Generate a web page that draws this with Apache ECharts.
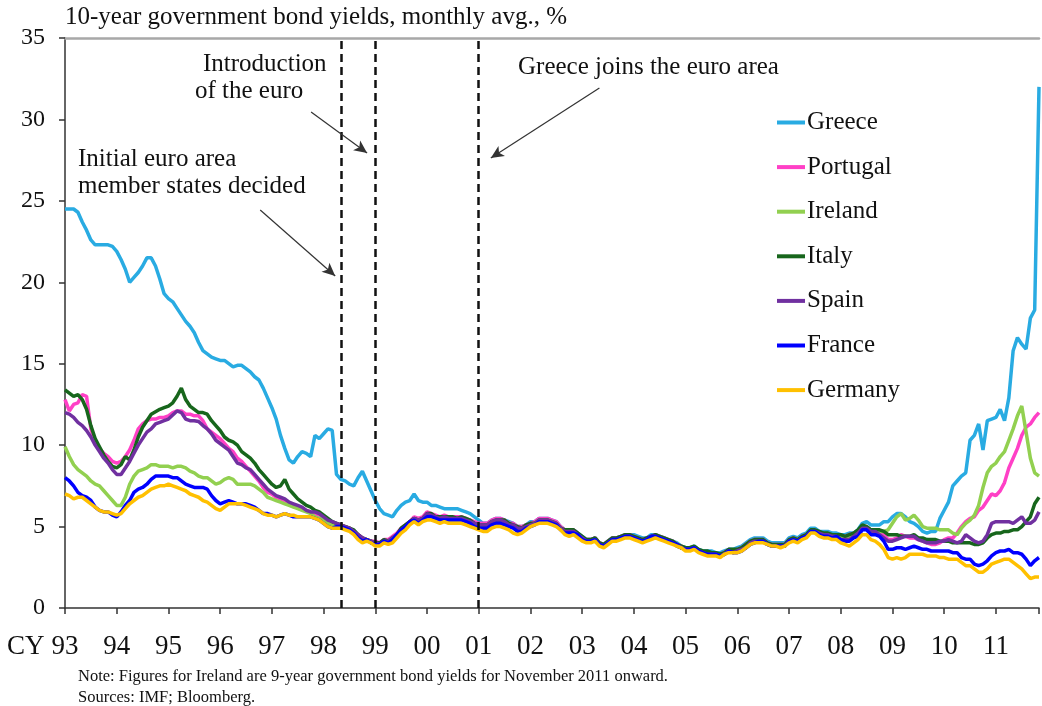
<!DOCTYPE html>
<html>
<head>
<meta charset="utf-8">
<script src="https://cdn.jsdelivr.net/npm/echarts@6/dist/echarts.min.js"></script>
<style>
  html, body { margin: 0; padding: 0; background: #fff; }
  #chart { width: 1042px; height: 706px; }
</style>
</head>
<body>
<div id="chart"></div>
<script>
// monthly averages, Jan 1993 .. Nov 2011 (one row per year)
const yearLabels = ['93','94','95','96','97','98','99','00','01','02','03','04','05','06','07','08','09','10','11']

const greece = [
  24.5, 24.5, 24.5, 24.3, 23.7, 23.2, 22.6, 22.3, 22.3, 22.3, 22.3, 22.2,
  21.9, 21.4, 20.8, 20.0, 20.3, 20.6, 21.0, 21.5, 21.5, 21.0, 20.2, 19.3,
  19.0, 18.8, 18.4, 18.0, 17.6, 17.3, 16.9, 16.3, 15.8, 15.6, 15.4, 15.3,
  15.2, 15.2, 15.0, 14.8, 14.9, 14.9, 14.7, 14.5, 14.2, 14.0, 13.5, 12.9,
  12.3, 11.6, 10.6, 9.8, 9.1, 8.9, 9.3, 9.6, 9.5, 9.3, 10.6, 10.4,
  10.7, 11.0, 10.9, 8.2, 7.9, 7.8, 7.6, 7.5, 8.0, 8.4, 7.8, 7.2,
  6.6, 6.1, 5.8, 5.7, 5.6, 6.0, 6.3, 6.5, 6.6, 7.0, 6.6, 6.5,
  6.5, 6.3, 6.3, 6.2, 6.1, 6.1, 6.1, 6.1, 6.0, 5.9, 5.8, 5.6,
  5.4, 5.2, 5.2, 5.4, 5.5, 5.5, 5.4, 5.3, 5.2, 5.0, 5.0, 5.1,
  5.3, 5.3, 5.5, 5.5, 5.5, 5.4, 5.3, 5.0, 4.8, 4.8, 4.8, 4.6,
  4.4, 4.2, 4.2, 4.3, 4.0, 3.9, 4.1, 4.3, 4.3, 4.4, 4.5, 4.5,
  4.5, 4.4, 4.3, 4.3, 4.5, 4.5, 4.4, 4.3, 4.2, 4.1, 4.0, 3.8,
  3.7, 3.7, 3.8, 3.6, 3.5, 3.5, 3.5, 3.4, 3.4, 3.5, 3.6, 3.6,
  3.7, 3.8, 4.0, 4.2, 4.3, 4.3, 4.3, 4.1, 4.0, 4.0, 4.0, 4.0,
  4.3, 4.4, 4.3, 4.5, 4.6, 4.9, 4.9, 4.7, 4.7, 4.7, 4.6, 4.6,
  4.5, 4.5, 4.6, 4.6, 4.8, 5.2, 5.3, 5.1, 5.1, 5.1, 5.3, 5.3,
  5.6, 5.8, 5.8, 5.6, 5.3, 5.2, 5.0, 4.7, 4.6, 4.7, 4.7, 5.5,
  6.0, 6.5, 7.5, 7.8, 8.1, 8.3, 10.3, 10.6, 11.3, 9.7, 11.5, 11.6,
  11.7, 12.2, 11.5, 12.9, 15.8, 16.6, 16.2, 15.9, 17.8, 18.3, 32.0
]

const portugal = [
  12.8, 12.1, 12.5, 12.6, 13.1, 13.0, 11.0, 10.2, 9.8, 9.5, 9.3, 9.0,
  8.9, 9.0, 9.3, 9.7, 10.3, 11.0, 11.3, 11.5, 11.6, 11.6, 11.7, 11.7,
  11.8, 12.0, 12.1, 12.1, 11.9, 11.9, 11.8, 11.8, 11.5, 11.0, 10.8, 10.6,
  10.4, 10.1, 9.8, 9.6, 9.2, 9.0, 8.7, 8.4, 8.1, 7.8, 7.4, 7.1,
  7.0, 6.8, 6.7, 6.6, 6.4, 6.3, 6.2, 6.1, 6.0, 5.9, 5.8, 5.7,
  5.4, 5.3, 5.2, 5.1, 5.0, 5.0, 4.9, 4.7, 4.5, 4.3, 4.2, 4.1,
  4.1, 4.0, 4.2, 4.2, 4.4, 4.6, 4.9, 5.1, 5.3, 5.6, 5.5, 5.6,
  5.9, 5.8, 5.7, 5.6, 5.7, 5.6, 5.6, 5.6, 5.6, 5.5, 5.4, 5.3,
  5.2, 5.2, 5.2, 5.4, 5.5, 5.5, 5.4, 5.2, 5.2, 5.0, 5.0, 5.1,
  5.2, 5.3, 5.5, 5.5, 5.5, 5.4, 5.3, 5.0, 4.8, 4.8, 4.8, 4.6,
  4.3, 4.2, 4.2, 4.3, 4.0, 3.9, 4.1, 4.3, 4.3, 4.4, 4.5, 4.5,
  4.4, 4.3, 4.2, 4.3, 4.4, 4.5, 4.4, 4.3, 4.2, 4.1, 3.9, 3.8,
  3.6, 3.6, 3.7, 3.5, 3.4, 3.4, 3.4, 3.3, 3.3, 3.4, 3.6, 3.5,
  3.6, 3.7, 3.9, 4.1, 4.2, 4.2, 4.2, 4.0, 3.9, 3.9, 3.9, 3.9,
  4.2, 4.3, 4.2, 4.4, 4.5, 4.7, 4.8, 4.6, 4.6, 4.5, 4.5, 4.5,
  4.4, 4.4, 4.5, 4.6, 4.7, 5.0, 5.0, 4.8, 4.7, 4.6, 4.5, 4.2,
  4.2, 4.3, 4.5, 4.4, 4.3, 4.3, 4.2, 4.1, 4.0, 3.9, 3.9, 4.0,
  4.2, 4.3, 4.3, 4.6, 5.0, 5.3, 5.5, 5.6, 6.0, 6.2, 6.6, 7.0,
  6.9, 7.2, 7.7, 8.6, 9.2, 9.8, 10.6, 11.1, 11.3, 11.7, 12.0
]

const ireland = [
  9.9, 9.3, 8.8, 8.5, 8.3, 8.1, 7.8, 7.6, 7.5, 7.2, 6.9, 6.6,
  6.3, 6.3, 6.8, 7.6, 8.1, 8.4, 8.5, 8.6, 8.8, 8.8, 8.7, 8.7,
  8.7, 8.6, 8.7, 8.7, 8.6, 8.4, 8.3, 8.1, 8.0, 8.0, 7.8, 7.6,
  7.7, 7.9, 8.0, 7.9, 7.6, 7.6, 7.6, 7.6, 7.5, 7.3, 7.1, 6.8,
  6.7, 6.6, 6.5, 6.4, 6.3, 6.2, 6.1, 6.0, 5.9, 5.8, 5.6, 5.5,
  5.4, 5.2, 5.1, 5.0, 5.0, 5.0, 4.9, 4.7, 4.4, 4.2, 4.2, 4.0,
  3.9, 3.9, 4.1, 4.0, 4.2, 4.5, 4.8, 5.0, 5.3, 5.4, 5.3, 5.4,
  5.7, 5.6, 5.5, 5.5, 5.5, 5.4, 5.4, 5.4, 5.4, 5.4, 5.3, 5.1,
  5.0, 5.0, 5.0, 5.2, 5.3, 5.3, 5.2, 5.1, 5.0, 4.8, 4.8, 5.0,
  5.1, 5.2, 5.4, 5.4, 5.4, 5.3, 5.1, 4.9, 4.7, 4.7, 4.7, 4.5,
  4.2, 4.1, 4.1, 4.2, 3.9, 3.8, 4.0, 4.2, 4.2, 4.3, 4.4, 4.4,
  4.3, 4.2, 4.1, 4.2, 4.4, 4.4, 4.3, 4.2, 4.1, 4.0, 3.8, 3.7,
  3.6, 3.6, 3.7, 3.5, 3.4, 3.3, 3.3, 3.3, 3.2, 3.3, 3.5, 3.4,
  3.5, 3.6, 3.7, 4.0, 4.1, 4.1, 4.1, 3.9, 3.8, 3.8, 3.8, 3.8,
  4.1, 4.2, 4.1, 4.3, 4.4, 4.7, 4.7, 4.6, 4.5, 4.5, 4.4, 4.4,
  4.4, 4.3, 4.4, 4.5, 4.6, 5.0, 5.0, 4.8, 4.8, 4.7, 4.7, 4.8,
  5.2, 5.6, 5.8, 5.4, 5.5, 5.7, 5.4, 5.0, 4.9, 4.9, 4.9, 4.8,
  4.8, 4.8, 4.6, 4.5, 4.9, 5.2, 5.4, 5.7, 6.3, 7.4, 8.3, 8.7,
  8.9, 9.3, 9.6, 10.3, 11.0, 11.8, 12.4, 10.8, 9.2, 8.3, 8.1
]

const italy = [
  13.4, 13.2, 13.0, 13.1, 12.8, 12.2, 11.2, 10.4, 9.9, 9.4, 9.0, 8.7,
  8.6, 8.8, 9.3, 9.1, 9.7, 10.5, 11.1, 11.5, 11.9, 12.05, 12.2, 12.3,
  12.4, 12.6, 13.0, 13.5, 12.8, 12.4, 12.2, 12.0, 12.0, 11.9, 11.5, 11.2,
  10.9, 10.5, 10.3, 10.2, 10.0, 9.6, 9.4, 9.2, 8.9, 8.5, 8.2, 7.9,
  7.6, 7.4, 7.5, 7.9, 7.3, 7.0, 6.7, 6.5, 6.3, 6.2, 6.0, 5.9,
  5.7, 5.5, 5.3, 5.2, 5.1, 5.0, 4.9, 4.8, 4.5, 4.3, 4.2, 4.1,
  4.0, 4.0, 4.2, 4.1, 4.3, 4.5, 4.9, 5.1, 5.3, 5.5, 5.4, 5.5,
  5.8, 5.8, 5.6, 5.6, 5.6, 5.6, 5.6, 5.5, 5.6, 5.5, 5.4, 5.2,
  5.1, 5.1, 5.1, 5.3, 5.4, 5.4, 5.4, 5.2, 5.1, 5.0, 4.9, 5.1,
  5.2, 5.2, 5.4, 5.4, 5.4, 5.3, 5.2, 4.9, 4.8, 4.8, 4.8, 4.6,
  4.4, 4.2, 4.2, 4.3, 4.0, 3.9, 4.1, 4.3, 4.3, 4.4, 4.5, 4.5,
  4.4, 4.3, 4.2, 4.3, 4.4, 4.5, 4.4, 4.3, 4.2, 4.1, 3.9, 3.8,
  3.7, 3.7, 3.8, 3.6, 3.5, 3.5, 3.4, 3.4, 3.3, 3.4, 3.6, 3.6,
  3.6, 3.7, 3.9, 4.1, 4.2, 4.2, 4.2, 4.0, 3.9, 3.9, 3.9, 3.9,
  4.2, 4.3, 4.2, 4.4, 4.5, 4.8, 4.8, 4.7, 4.6, 4.6, 4.5, 4.5,
  4.5, 4.4, 4.5, 4.6, 4.8, 5.1, 5.0, 4.8, 4.8, 4.8, 4.7, 4.5,
  4.5, 4.5, 4.4, 4.4, 4.4, 4.5, 4.3, 4.3, 4.2, 4.2, 4.2, 4.1,
  4.1, 4.1, 4.0, 4.0, 4.0, 4.0, 4.0, 3.9, 3.9, 4.0, 4.3, 4.5,
  4.6, 4.6, 4.7, 4.7, 4.8, 4.8, 5.0, 5.3, 5.6, 6.4, 6.8
]

const spain = [
  12.0, 11.9, 11.7, 11.4, 11.2, 10.9, 10.5, 10.0, 9.6, 9.2, 8.9, 8.5,
  8.2, 8.2, 8.6, 9.0, 9.5, 10.0, 10.4, 10.8, 11.0, 11.3, 11.4, 11.5,
  11.6, 11.85, 12.1, 12.0, 11.6, 11.5, 11.5, 11.45, 11.2, 11.0, 10.7, 10.3,
  10.1, 9.9, 9.7, 9.3, 8.9, 8.8, 8.6, 8.5, 8.2, 7.9, 7.6, 7.3,
  7.1, 6.9, 6.8, 6.7, 6.5, 6.4, 6.3, 6.2, 6.0, 5.9, 5.9, 5.8,
  5.6, 5.4, 5.3, 5.2, 5.1, 5.0, 4.9, 4.7, 4.5, 4.3, 4.2, 4.1,
  4.0, 3.95, 4.1, 4.1, 4.3, 4.5, 4.8, 5.0, 5.2, 5.5, 5.4, 5.5,
  5.8, 5.7, 5.6, 5.5, 5.6, 5.5, 5.5, 5.5, 5.5, 5.4, 5.3, 5.2,
  5.1, 5.1, 5.1, 5.3, 5.4, 5.4, 5.3, 5.1, 5.1, 4.9, 4.9, 5.0,
  5.1, 5.2, 5.4, 5.4, 5.4, 5.3, 5.2, 4.9, 4.7, 4.7, 4.7, 4.5,
  4.3, 4.1, 4.1, 4.2, 3.9, 3.8, 4.0, 4.2, 4.2, 4.3, 4.4, 4.4,
  4.3, 4.2, 4.1, 4.2, 4.4, 4.4, 4.3, 4.2, 4.1, 4.0, 3.8, 3.7,
  3.6, 3.6, 3.7, 3.5, 3.4, 3.3, 3.3, 3.3, 3.2, 3.3, 3.5, 3.4,
  3.5, 3.6, 3.7, 4.0, 4.1, 4.1, 4.1, 3.9, 3.8, 3.8, 3.8, 3.8,
  4.1, 4.2, 4.1, 4.3, 4.4, 4.7, 4.7, 4.6, 4.5, 4.5, 4.4, 4.4,
  4.2, 4.2, 4.2, 4.4, 4.6, 4.9, 4.9, 4.7, 4.7, 4.5, 4.3, 4.1,
  4.1, 4.2, 4.3, 4.4, 4.4, 4.4, 4.2, 4.1, 4.0, 4.0, 4.0, 4.1,
  4.1, 4.2, 4.1, 4.0, 4.1, 4.5, 4.3, 4.1, 4.0, 4.1, 4.5, 5.2,
  5.3, 5.3, 5.3, 5.3, 5.2, 5.4, 5.6, 5.2, 5.2, 5.4, 5.9
]

const france = [
  8.0, 7.8, 7.5, 7.1, 6.9, 6.8, 6.6, 6.2, 6.0, 5.9, 5.9, 5.7,
  5.6, 5.9, 6.3, 6.6, 7.1, 7.3, 7.4, 7.6, 7.9, 8.1, 8.1, 8.1,
  8.1, 8.0, 8.0, 7.8, 7.6, 7.5, 7.4, 7.4, 7.4, 7.3, 6.9, 6.6,
  6.4, 6.5, 6.6, 6.5, 6.4, 6.4, 6.4, 6.3, 6.2, 6.0, 5.8, 5.8,
  5.7, 5.6, 5.7, 5.8, 5.7, 5.6, 5.6, 5.6, 5.6, 5.6, 5.5, 5.4,
  5.2, 5.0, 4.9, 5.0, 5.0, 4.9, 4.8, 4.6, 4.3, 4.1, 4.2, 4.0,
  3.9, 3.9, 4.1, 4.0, 4.2, 4.5, 4.8, 5.0, 5.3, 5.4, 5.2, 5.4,
  5.6, 5.6, 5.5, 5.4, 5.4, 5.4, 5.4, 5.4, 5.4, 5.3, 5.2, 5.0,
  4.9, 4.9, 4.9, 5.1, 5.2, 5.2, 5.1, 5.0, 4.9, 4.7, 4.7, 4.9,
  5.0, 5.1, 5.3, 5.3, 5.3, 5.2, 5.1, 4.8, 4.6, 4.6, 4.6, 4.5,
  4.2, 4.1, 4.1, 4.2, 3.9, 3.8, 4.0, 4.2, 4.2, 4.3, 4.4, 4.4,
  4.3, 4.2, 4.1, 4.2, 4.4, 4.4, 4.3, 4.2, 4.1, 4.0, 3.9, 3.7,
  3.6, 3.6, 3.7, 3.5, 3.4, 3.3, 3.3, 3.3, 3.2, 3.3, 3.5, 3.4,
  3.4, 3.5, 3.7, 3.9, 4.0, 4.1, 4.1, 3.9, 3.8, 3.8, 3.8, 3.8,
  4.1, 4.2, 4.1, 4.3, 4.4, 4.7, 4.7, 4.5, 4.4, 4.4, 4.3, 4.4,
  4.2, 4.1, 4.1, 4.3, 4.4, 4.8, 4.8, 4.5, 4.5, 4.4, 4.1, 3.6,
  3.6, 3.7, 3.7, 3.6, 3.7, 3.8, 3.7, 3.6, 3.6, 3.5, 3.5, 3.5,
  3.5, 3.5, 3.4, 3.4, 3.1, 3.0, 3.0, 2.7, 2.6, 2.7, 2.9, 3.2,
  3.4, 3.5, 3.5, 3.6, 3.4, 3.4, 3.3, 3.0, 2.6, 2.9, 3.1
]

const germany = [
  7.0, 6.9, 6.7, 6.8, 6.8, 6.6, 6.4, 6.2, 6.0, 5.9, 5.9, 5.8,
  5.7, 5.8, 6.1, 6.4, 6.6, 6.8, 6.9, 7.1, 7.3, 7.4, 7.5, 7.5,
  7.6, 7.5, 7.4, 7.3, 7.2, 7.0, 6.9, 6.8, 6.6, 6.5, 6.3, 6.1,
  6.0, 6.2, 6.4, 6.4, 6.4, 6.4, 6.3, 6.2, 6.1, 6.0, 5.8, 5.7,
  5.7, 5.6, 5.7, 5.8, 5.7, 5.7, 5.6, 5.6, 5.6, 5.6, 5.5, 5.4,
  5.2, 5.0, 4.9, 4.9, 4.9, 4.8, 4.7, 4.5, 4.2, 4.0, 4.1, 4.0,
  3.8, 3.8, 4.0, 3.9, 4.0, 4.3, 4.6, 4.8, 5.1, 5.3, 5.1, 5.3,
  5.4, 5.4, 5.3, 5.2, 5.3, 5.2, 5.2, 5.2, 5.2, 5.1, 5.0, 4.9,
  4.8, 4.7, 4.7, 4.9, 5.0, 5.0, 4.9, 4.8, 4.6, 4.5, 4.6, 4.8,
  5.0, 5.1, 5.2, 5.2, 5.2, 5.1, 5.0, 4.8, 4.5, 4.4, 4.5, 4.3,
  4.1, 4.0, 4.0, 4.1, 3.8, 3.7, 3.9, 4.1, 4.1, 4.2, 4.3, 4.3,
  4.2, 4.1, 4.0, 4.1, 4.2, 4.3, 4.2, 4.1, 4.0, 3.9, 3.8, 3.7,
  3.5, 3.5, 3.6, 3.4, 3.3, 3.2, 3.2, 3.2, 3.1, 3.3, 3.4, 3.4,
  3.4, 3.5, 3.7, 3.9, 4.0, 4.0, 4.0, 3.9, 3.8, 3.8, 3.7, 3.8,
  4.0, 4.1, 4.0, 4.2, 4.3, 4.6, 4.6, 4.4, 4.3, 4.3, 4.2, 4.2,
  4.0, 3.9, 3.8, 4.0, 4.2, 4.5, 4.5, 4.2, 4.1, 3.9, 3.6, 3.1,
  3.0, 3.1, 3.0, 3.1, 3.3, 3.3, 3.3, 3.3, 3.2, 3.2, 3.2, 3.1,
  3.1, 3.0, 3.0, 3.0, 2.8, 2.6, 2.6, 2.4, 2.2, 2.2, 2.4, 2.7,
  2.8, 2.9, 3.0, 3.0, 2.8, 2.6, 2.4, 2.1, 1.8, 1.9, 1.9
]

// events, as month index from Jan 1993
const eventMonths = [64, 72, 96]

const countries = [
  { name: 'Greece', data: greece, color: '#29abe2' },
  { name: 'Portugal', data: portugal, color: '#ff40c6' },
  { name: 'Ireland', data: ireland, color: '#92d050' },
  { name: 'Italy', data: italy, color: '#17661c' },
  { name: 'Spain', data: spain, color: '#7030a0' },
  { name: 'France', data: france, color: '#0000ff' },
  { name: 'Germany', data: germany, color: '#ffc000' }
]

const FONT = '"Liberation Serif", "Times New Roman", serif'
const lastMonth = greece.length - 1

const chart = echarts.init(document.getElementById('chart'), null, { renderer: 'canvas' })

const lineSeries = countries.map(c => ({
  name: c.name,
  type: 'line',
  data: c.data.map((v, i) => [i, v]),
  showSymbol: false,
  symbol: 'none',
  silent: true,
  lineStyle: { width: 3.5, color: c.color },
  itemStyle: { color: c.color }
}))

const arrow = (from, to) => [
  { coord: from, symbol: 'none' },
  { coord: to, symbol: 'arrow', symbolSize: [9, 13] }
]

const option = {
  animation: false,
  backgroundColor: '#fff',
  textStyle: { fontFamily: FONT },
  grid: { left: 65, right: 0, top: 38, bottom: 98 },
  legend: {
    orient: 'vertical',
    left: 777,
    top: 110,
    padding: 0,
    itemWidth: 28,
    itemHeight: 4,
    itemGap: 19.6,
    icon: 'rect',
    textStyle: { fontFamily: FONT, fontSize: 25, color: '#111', lineHeight: 25, padding: [0, 0, 0, -3] },
    data: countries.map(c => c.name)
  },
  xAxis: [
    {
      type: 'value',
      min: 0,
      max: lastMonth,
      interval: 12,
      axisLine: { lineStyle: { color: '#333', width: 1.5 } },
      axisTick: { show: true, length: 6, lineStyle: { color: '#333', width: 1.5 } },
      splitLine: { show: false },
      axisLabel: {
        fontFamily: FONT,
        fontSize: 27,
        color: '#111',
        margin: 25,
        formatter: v => yearLabels[v / 12] || ''
      }
    },
    {
      type: 'value',
      position: 'top',
      min: 0,
      max: lastMonth,
      axisLine: { show: true, lineStyle: { color: '#a8a8a8', width: 2.5 } },
      axisTick: { show: false },
      axisLabel: { show: false },
      splitLine: { show: false }
    }
  ],
  yAxis: {
    type: 'value',
    min: 0,
    max: 35,
    interval: 5,
    axisLine: { show: true, lineStyle: { color: '#333', width: 1.5 } },
    axisTick: { show: true, length: 6, lineStyle: { color: '#333', width: 1.5 } },
    splitLine: { show: false },
    axisLabel: { fontFamily: FONT, fontSize: 24, color: '#111', margin: 20 }
  },
  series: [
    ...lineSeries,
    {
      name: 'events',
      type: 'line',
      data: [],
      silent: true,
      markLine: {
        silent: true,
        symbol: 'none',
        label: { show: false },
        lineStyle: { color: '#111', width: 2.5, type: [8, 5] },
        data: eventMonths.map(m => ({ xAxis: m }))
      }
    },
    {
      name: 'arrows',
      type: 'line',
      data: [],
      silent: true,
      markLine: {
        silent: true,
        label: { show: false },
        lineStyle: { color: '#333', width: 1.2, type: 'solid' },
        data: [
          arrow([57.1, 30.46], [70.1, 27.94]),
          arrow([45.3, 24.44], [62.7, 20.39]),
          arrow([124.0, 31.93], [98.8, 27.63])
        ]
      }
    }
  ],
  graphic: [
    { type: 'text', left: 65, top: 5, style: { text: '10-year government bond yields, monthly avg., %', font: '25px ' + FONT, fill: '#111' } },
    { type: 'text', left: 203, top: 52, style: { text: 'Introduction', font: '25px ' + FONT, fill: '#111' } },
    { type: 'text', left: 195, top: 79, style: { text: 'of the euro', font: '25px ' + FONT, fill: '#111' } },
    { type: 'text', left: 78, top: 147, style: { text: 'Initial euro area', font: '25px ' + FONT, fill: '#111' } },
    { type: 'text', left: 78, top: 174, style: { text: 'member states decided', font: '25px ' + FONT, fill: '#111' } },
    { type: 'text', left: 518, top: 55, style: { text: 'Greece joins the euro area', font: '25px ' + FONT, fill: '#111' } },
    { type: 'text', left: 7, top: 633, style: { text: 'CY', font: '27px ' + FONT, fill: '#111' } },
    { type: 'text', left: 78, top: 668, style: { text: 'Note: Figures for Ireland are 9-year government bond yields for November 2011 onward.', font: '16.5px ' + FONT, fill: '#111' } },
    { type: 'text', left: 78, top: 689, style: { text: 'Sources: IMF; Bloomberg.', font: '16.5px ' + FONT, fill: '#111' } }
  ]
}

chart.setOption(option)

window.addEventListener('resize', () => chart.resize(), { passive: true })
</script>
</body>
</html>
